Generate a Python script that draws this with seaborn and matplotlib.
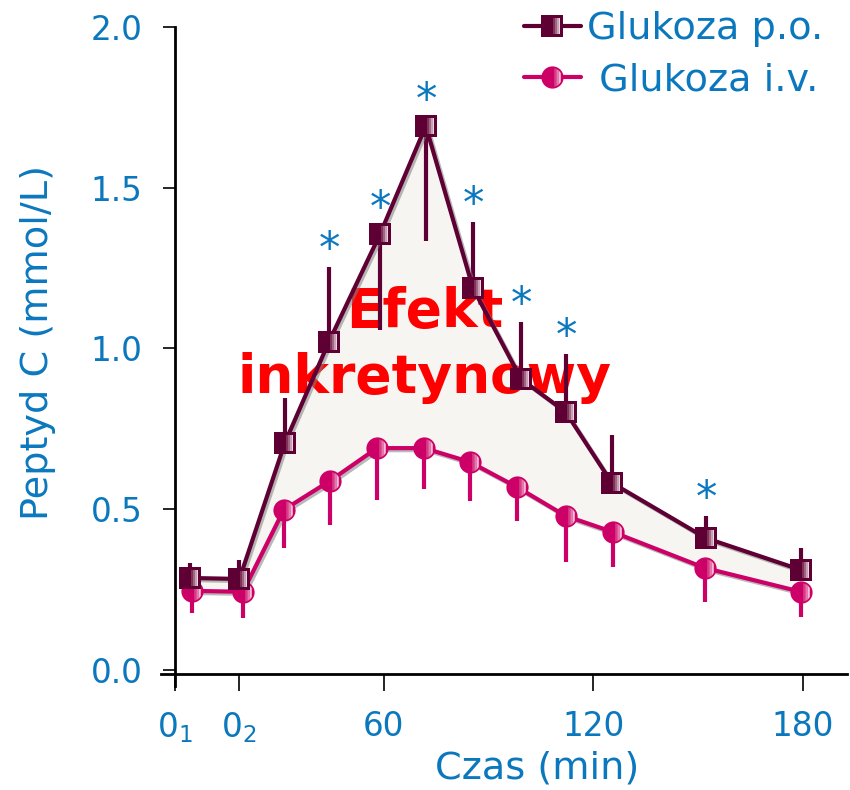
import numpy as np
import matplotlib
matplotlib.use("Agg")
import matplotlib.pyplot as plt
import seaborn as sns
from matplotlib.path import Path
from matplotlib.lines import Line2D
from matplotlib.legend_handler import HandlerTuple
import matplotlib.patheffects as pe

# ---------------- data ----------------
tick_pos = [0, 18.5, 60, 120, 180]
tick_labels = [r"$\mathregular{0_1}$", r"$\mathregular{0_2}$", "60", "120", "180"]
y_ticks = [0.0, 0.5, 1.0, 1.5, 2.0]

po_t = [4.4, 18.6, 31.6, 44.2, 58.9, 72.0, 85.5, 99.3, 112.1, 125.3, 152.3, 179.5]
po_v = [0.286, 0.283, 0.706, 1.02, 1.356, 1.692, 1.188, 0.905, 0.802, 0.582, 0.41, 0.311]
po_err_up = [0.047, 0.059, 0.14, 0.234, 0.0, 0.0, 0.205, 0.177, 0.181, 0.149, 0.069, 0.069]
po_err_down = [0, 0, 0, 0, 0.298, 0.358, 0, 0, 0, 0, 0, 0]
po_signif = [False, False, False, True, True, True, True, True, True, False, True, False]

iv_t = [5.0, 19.6, 31.3, 44.5, 58.0, 71.5, 84.6, 98.1, 112.1, 125.6, 152.0, 179.5]
iv_v = [0.246, 0.243, 0.498, 0.588, 0.69, 0.69, 0.647, 0.569, 0.479, 0.429, 0.317, 0.243]
iv_err_down = [0.069, 0.081, 0.119, 0.137, 0.161, 0.127, 0.121, 0.106, 0.143, 0.109, 0.107, 0.078]

label_po = "Glukoza p.o."
label_iv = " Glukoza i.v."
effect_lines = ["Efekt", "inkretynowy"]
x_label = "Czas (min)"
y_label = "Peptyd C (mmol/L)"

# ---------------- style ----------------
sns.set_style("white")
plt.rcParams["font.family"] = ["DejaVu Sans"]
plt.rcParams["mathtext.fontset"] = "dejavusans"

BLUE = "#0b78be"
PO = "#5e0033"
IV = "#cc0066"
FILL = "#f6f5f1"

fig = plt.figure(figsize=(8.5, 7.9), dpi=100)
ax = fig.add_axes([160.6 / 850, 1 - 686 / 790, (847 - 160.6) / 850, (686 - 27) / 790])
ax.set_xlim(-4.0, 192.7)
ax.set_ylim(-0.05, 2.0)


def rect_strip(x0, x1, y0, y1):
    verts = [(-1, -1), (1, 1), (x0, y0), (x1, y0), (x1, y1), (x0, y1), (x0, y0)]
    codes = [Path.MOVETO, Path.MOVETO, Path.MOVETO, Path.LINETO, Path.LINETO,
             Path.LINETO, Path.CLOSEPOLY]
    return Path(verts, codes)


def circ_strip(a, b, r=0.84):
    xs = np.linspace(a, b, 12)
    top = [(x, np.sqrt(max(r * r - x * x, 0))) for x in xs]
    bot = [(x, -np.sqrt(max(r * r - x * x, 0))) for x in xs[::-1]]
    pts = [(-1, -1), (1, 1)] + top + bot + [top[0]]
    codes = [Path.MOVETO, Path.MOVETO, Path.MOVETO] + [Path.LINETO] * (len(top) + len(bot) - 1) + [Path.CLOSEPOLY]
    return Path(pts, codes)


sq_hl = [(rect_strip(0.10, 0.28, -0.7, 0.7), "#7e3356"),
         (rect_strip(0.28, 0.45, -0.7, 0.7), "#a06583"),
         (rect_strip(0.45, 0.60, -0.7, 0.7), "#c89fb3"),
         (rect_strip(0.60, 0.72, -0.7, 0.7), "#e6d6de")]
ci_hl = [(circ_strip(0.15, 0.35), "#d63d85"),
         (circ_strip(0.35, 0.55), "#e47aab"),
         (circ_strip(0.55, 0.75), "#f2bcd5")]

shadow = [pe.SimpleLineShadow(offset=(1.5, -1.5), shadow_color="#808080", alpha=0.55), pe.Normal()]

# fill between the two curves
ax.fill(np.concatenate([po_t, iv_t[::-1]]), np.concatenate([po_v, iv_v[::-1]]),
        color=FILL, zorder=1, lw=0)

# i.v. series
ax.errorbar(iv_t, iv_v, yerr=[iv_err_down, np.zeros(len(iv_v))], fmt="none",
            ecolor=IV, elinewidth=3, capsize=0, zorder=2)
sns.lineplot(x=iv_t, y=iv_v, color=IV, lw=3, ax=ax, zorder=3, path_effects=shadow)
ax.plot(iv_t, iv_v, ls="none", marker="o", ms=16, mfc=IV, mec=IV, mew=0, zorder=4)
for k, (p, c) in enumerate(ci_hl):
    ax.plot(iv_t, iv_v, ls="none", marker=p, ms=16, mfc=c, mec=c, mew=0, zorder=4.1 + 0.01 * k)

# effect text
t_center = 71.7
ax.text(t_center, 1.067, effect_lines[0], color="red", fontsize=38.5, fontweight="bold",
        ha="center", va="baseline", zorder=5)
ax.text(t_center, 0.862, effect_lines[1], color="red", fontsize=38.5, fontweight="bold",
        ha="center", va="baseline", zorder=5)

# p.o. series
ax.errorbar(po_t, po_v, yerr=[po_err_down, po_err_up], fmt="none",
            ecolor=PO, elinewidth=3, capsize=0, zorder=6)
sns.lineplot(x=po_t, y=po_v, color=PO, lw=3, ax=ax, zorder=7, path_effects=shadow)
ax.plot(po_t, po_v, ls="none", marker="s", ms=16, mfc=PO, mec=PO, mew=0, zorder=8)
for k, (p, c) in enumerate(sq_hl):
    ax.plot(po_t, po_v, ls="none", marker=p, ms=16, mfc=c, mec=c, mew=0, zorder=8.1 + 0.01 * k)

# significance stars (tight mathtext box, centred on the glyph)
for t, v, up, s in zip(po_t, po_v, po_err_up, po_signif):
    if not s:
        continue
    off_px = 19 + (8 if up == 0 else 0)
    ax.annotate(r"$\mathregular{*}$", xy=(t, v + up), xytext=(0, off_px * 0.72),
                textcoords="offset points", ha="center", va="center",
                fontsize=31, color=BLUE, zorder=9, annotation_clip=False)

# axes styling
for side in ["top", "right"]:
    ax.spines[side].set_visible(False)
ax.spines["left"].set_position(("data", 0))
ax.spines["bottom"].set_position(("data", -0.012))
for side in ["left", "bottom"]:
    ax.spines[side].set_color("black")
    ax.spines[side].set_linewidth(2)

ax.set_xticks(tick_pos)
ax.set_xticklabels(tick_labels)
ax.set_yticks(y_ticks)
ax.set_yticklabels([f"{v:.1f}" for v in y_ticks])
ax.tick_params(axis="x", direction="out", length=12, width=1.2, color="black",
               labelsize=23.5, labelcolor=BLUE, pad=14, bottom=True)
ax.tick_params(axis="y", direction="out", length=9, width=1.2, color="black",
               labelsize=23.5, labelcolor=BLUE, pad=14, left=True)

ax.set_xlabel(x_label, fontsize=27.5, color=BLUE)
ax.set_ylabel(y_label, fontsize=27.5, color=BLUE)
ax.xaxis.set_label_coords(0.548, -0.098)
ax.yaxis.set_label_coords(-0.152, 0.522)

# legend
h_po = [Line2D([], [], color=PO, lw=3, marker="s", ms=16, mfc=PO, mew=0)] + \
       [Line2D([], [], ls="none", marker=p, ms=16, mfc=c, mec=c, mew=0) for p, c in sq_hl]
h_iv = [Line2D([], [], color=IV, lw=3, marker="o", ms=16, mfc=IV, mew=0)] + \
       [Line2D([], [], ls="none", marker=p, ms=16, mfc=c, mec=c, mew=0) for p, c in ci_hl]
leg = fig.legend([tuple(h_po), tuple(h_iv)], [label_po, label_iv],
                 handler_map={tuple: HandlerTuple(ndivide=1, pad=0)},
                 loc="upper right", bbox_to_anchor=(823 / 850, 1 - 11 / 790),
                 frameon=False, fontsize=27.5, handlelength=1.5, handletextpad=0.15,
                 labelspacing=0.4, borderpad=0, borderaxespad=0, numpoints=1)
for t in leg.get_texts():
    t.set_color(BLUE)

fig.savefig("out.png", dpi=100)
